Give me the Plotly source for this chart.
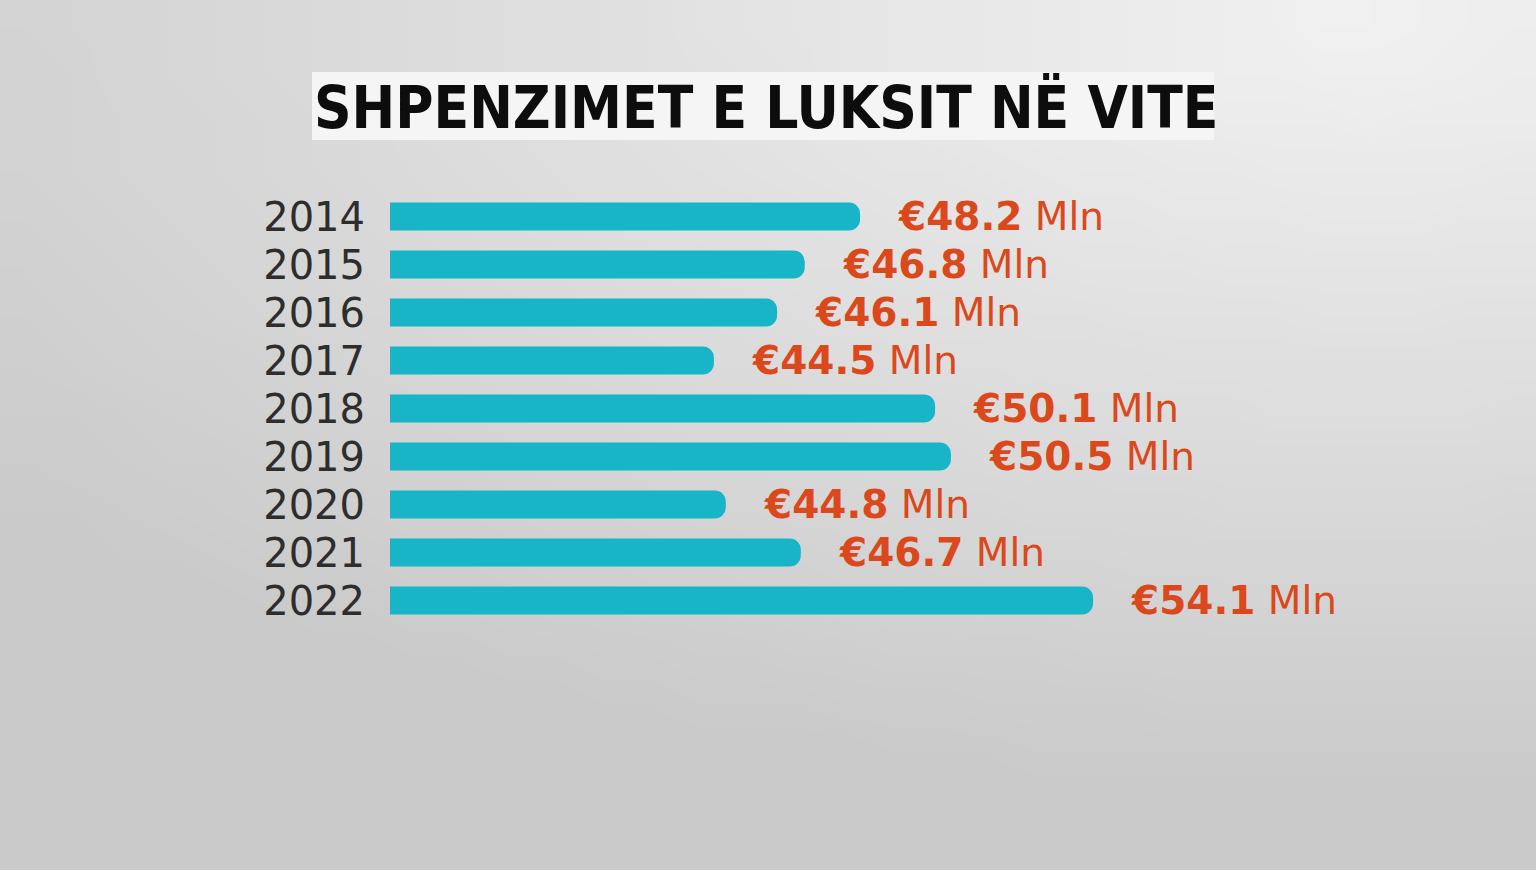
import base64
import struct
import zlib

import numpy as np
import plotly.graph_objects as go

# Données
vite = ['2014', '2015', '2016', '2017', '2018', '2019', '2020', '2021', '2022']
shpenzime = [48.2, 46.8, 46.1, 44.5, 50.1, 50.5, 44.8, 46.7, 54.1]
titulli = 'SHPENZIMET E LUKSIT NË VITE'
njesia = 'Mln'

W, H = 1536, 870
L, R, T, B = 390, 36, 192, 245


# Petit PNG en dégradé pour le fond gris (plus clair en haut à droite)
def png_gradient(w, h):
    ys, xs = np.mgrid[0:h, 0:w]
    fx = xs / (w - 1)
    fy = ys / (h - 1)
    d = np.sqrt((fx - 0.9) ** 2 + (fy - 0.0) ** 2 * 1.6)
    val = 242 - 40 * np.clip(d, 0, 1.2) / 1.2
    val = val.astype(np.uint8)
    raw = b''.join(b'\x00' + bytes(np.repeat(val[r], 3)) for r in range(h))

    def chunk(tag, data):
        c = struct.pack('>I', len(data)) + tag + data
        return c + struct.pack('>I', zlib.crc32(tag + data) & 0xffffffff)

    png = b'\x89PNG\r\n\x1a\n'
    png += chunk(b'IHDR', struct.pack('>IIBBBBB', w, h, 8, 2, 0, 0, 0))
    png += chunk(b'IDAT', zlib.compress(raw))
    png += chunk(b'IEND', b'')
    return 'data:image/png;base64,' + base64.b64encode(png).decode()


fig = go.Figure()
fig.add_trace(
    go.Bar(
        x=shpenzime,
        y=vite,
        orientation='h',
        marker=dict(color='#17b5c7', cornerradius=11, line=dict(width=0)),
        hoverinfo='skip'
    )
)

# Étiquettes de valeur à droite des barres
# (index de catégorie : une chaîne '2014' serait lue comme un nombre)
for i, a in enumerate(shpenzime):
    fig.add_annotation(
        x=a, y=i, xref='x', yref='y',
        text=f'<b>€{a}</b> {njesia}',
        showarrow=False, xanchor='left', yanchor='middle', xshift=36,
        font=dict(family='DejaVu Sans', size=39, color='#da481b')
    )

# Titre sur fond blanc
fig.add_shape(
    type='rect', xref='paper', yref='paper',
    x0=(312 - L) / (W - L - R), x1=(1214 - L) / (W - L - R),
    y0=1 + (T - 140) / (H - T - B), y1=1 + (T - 72) / (H - T - B),
    fillcolor='#f5f5f5', line=dict(width=0), layer='below'
)
fig.add_annotation(
    x=(766 - L) / (W - L - R), y=1 + (T - 107) / (H - T - B),
    xref='paper', yref='paper', text=f'<b>{titulli}</b>',
    showarrow=False, xanchor='center', yanchor='middle',
    font=dict(family='DejaVu Sans Condensed, Liberation Sans',
              size=58, color='#0d0d0d')
)

fig.add_layout_image(
    dict(source=png_gradient(32, 18), xref='paper', yref='paper',
         x=-L / (W - L - R), y=1 + T / (H - T - B),
         sizex=W / (W - L - R), sizey=H / (H - T - B),
         sizing='stretch', layer='below', xanchor='left', yanchor='top')
)

fig.update_layout(
    width=W, height=H,
    margin=dict(l=L, r=R, t=T, b=B),
    paper_bgcolor='#d6d6d6',
    plot_bgcolor='rgba(0,0,0,0)',
    bargap=0.42,
    showlegend=False,
    xaxis=dict(range=[36.3, 36.3 + (W - L - R) / 39.5], visible=False, fixedrange=True),
    yaxis=dict(
        type='category', autorange='reversed',
        showgrid=False, zeroline=False, showline=False,
        ticks='', ticklabelstandoff=24,
        tickfont=dict(family='DejaVu Sans', size=40, color='#2d2d2d'),
        fixedrange=True
    )
)

fig.write_html(
    'out.html',
    config={'displayModeBar': False},
    post_script="document.body.style.margin='0';document.body.style.overflow='hidden';"
)
